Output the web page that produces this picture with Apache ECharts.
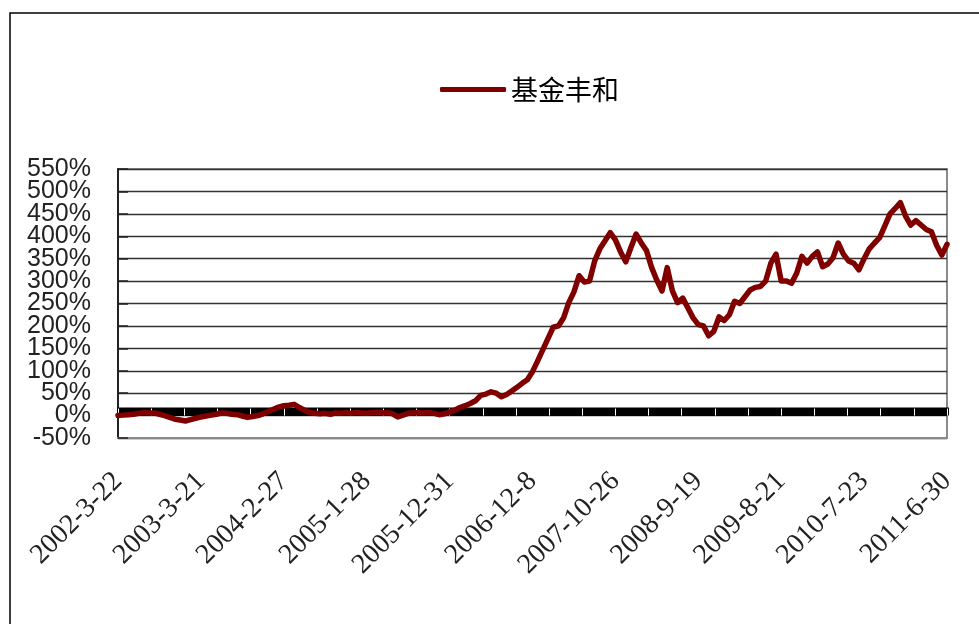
<!DOCTYPE html>
<html>
<head>
<meta charset="utf-8">
<script src="https://cdn.jsdelivr.net/npm/echarts@6/dist/echarts.min.js"></script>
<style>
html,body{margin:0;padding:0;background:#fff;}
#chart{width:979px;height:624px;}
</style>
</head>
<body>
<div id="chart"></div>
<script>
// Tick labels on the category axis (every 16th observation)
const tickLabels = ['2002-3-22','2003-3-21','2004-2-27','2005-1-28','2005-12-31','2006-12-8','2007-10-26','2008-9-19','2009-8-21','2010-7-23','2011-6-30'];
// Value-axis tick labels, -50% .. 550% every 50%
const yTickLabels = ['-50%','0%','50%','100%','150%','200%','250%','300%','350%','400%','450%','500%','550%'];
const seriesName = '基金丰和';
const values = [
  0, 1, 2, 3, 5, 7, 6, 6, 3, 0, -4, -8, -10, -12, -9, -6,
  -3, -1, 1, 3, 6, 5, 3, 2, -1, -4, -2, 0, 4, 9, 14, 19,
  22, 23, 25, 18, 12, 7, 5, 4, 5, 3, 6, 5, 7, 5, 7, 6,
  5, 7, 8, 6, 7, 4, -3, 1, 5, 6, 7, 6, 7, 5, 2, 4,
  8, 12, 18, 22, 27, 33, 45, 48, 53, 50, 42, 47, 55, 63, 72, 80,
  98, 122, 147, 172, 197, 200, 218, 252, 276, 312, 298, 300, 345, 372, 390, 408,
  392, 365, 343, 375, 405, 385, 368, 330, 302, 278, 330, 278, 252, 262, 240, 218,
  203, 200, 178, 188, 220, 212, 225, 255, 250, 265, 280, 286, 288, 300, 340, 360,
  300, 300, 295, 318, 355, 340, 355, 365, 332, 338, 352, 385, 360, 345, 340, 325,
  350, 372, 385, 397, 423, 450, 462, 475, 445, 425, 435, 425, 415, 410, 380, 358,
  382
];
const perLabel = 16;
const lastIndex = values.length - 1;

const chart = echarts.init(document.getElementById('chart'), null, {renderer: 'canvas'});
chart.setOption({
  animation: false,
  backgroundColor: '#ffffff',
  graphic: [{
    type: 'rect',
    shape: {x: 10, y: 13, width: 1000, height: 700},
    style: {fill: 'none', stroke: '#000', lineWidth: 1.5},
    silent: true
  }],
  legend: {
    data: [seriesName],
    left: 440,
    top: 76,
    padding: 0,
    icon: 'roundRect',
    itemWidth: 66,
    itemHeight: 5,
    itemGap: 6,
    textStyle: {fontFamily: '"Noto Sans CJK SC"', fontSize: 27, color: '#000'}
  },
  grid: {
    left: 118, right: 32, top: 169, bottom: 186,
    show: true, borderColor: '#8a8a8a', borderWidth: 2
  },
  xAxis: [{
    type: 'value',
    min: 0, max: lastIndex, interval: perLabel,
    position: 'bottom',
    axisLine: {show: true, onZero: false, lineStyle: {color: '#8a8a8a', width: 2}},
    axisTick: {show: false},
    splitLine: {show: false},
    axisLabel: {
      rotate: 45, margin: 39, showMinLabel: true, showMaxLabel: true,
      fontFamily: '"Liberation Serif"', fontSize: 28, color: '#222',
      formatter: v => tickLabels[Math.round(v / perLabel)]
    }
  }, {
    type: 'value',
    min: 0, max: lastIndex, interval: 0.5,
    position: 'bottom',
    axisLine: {show: true, onZero: true, onZeroAxisIndex: 0, lineStyle: {color: '#000', width: 1}},
    axisTick: {show: true, inside: true, length: 8, lineStyle: {color: '#000', width: 3}},
    axisLabel: {show: false},
    splitLine: {show: false}
  }, {
    type: 'value',
    min: 0, max: 25, interval: 1,
    position: 'bottom',
    axisLine: {show: false, onZero: true, onZeroAxisIndex: 0},
    axisTick: {show: true, inside: true, length: 7, lineStyle: {color: '#ffffff', width: 1}},
    axisLabel: {show: false},
    splitLine: {show: false}
  }],
  yAxis: [{
    type: 'value',
    min: -50, max: 550, interval: 50,
    axisLine: {show: true, onZero: false, lineStyle: {color: '#222', width: 2}},
    axisTick: {show: true, inside: true, length: 10, lineStyle: {color: '#222', width: 1.5}},
    splitLine: {show: true, lineStyle: {color: '#333', width: 1.3}},
    axisLabel: {show: false}
  }, {
    type: 'category',
    data: yTickLabels,
    boundaryGap: false,
    position: 'left',
    axisLine: {show: false, onZero: false},
    axisTick: {show: false},
    splitLine: {show: false},
    axisLabel: {
      interval: 0, margin: 27,
      fontFamily: '"Liberation Sans"', fontSize: 25, color: '#222'
    }
  }],
  series: [{
    name: seriesName,
    type: 'line',
    xAxisIndex: 0,
    yAxisIndex: 0,
    data: values.map((v, i) => [i, v]),
    symbol: 'none',
    smooth: false,
    lineStyle: {color: '#800000', width: 5.5, join: 'round', cap: 'round'},
    itemStyle: {color: '#800000'},
    z: 5
  }]
});
</script>
</body>
</html>
